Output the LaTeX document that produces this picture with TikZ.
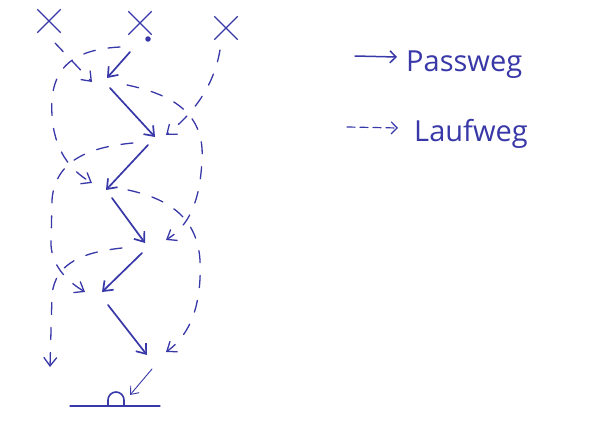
\documentclass[tikz,border=0pt]{standalone}
\usepackage{fontspec}
\setmainfont{Open Sans}
\usetikzlibrary{arrows.meta,shapes.misc}
\definecolor{ink}{RGB}{56,56,168}

\begin{document}
\begin{tikzpicture}[x=1pt,y=-1pt,
  pen/.style={draw=ink,line cap=round,line join=round},
  barb/.style={-{Straight Barb[length=8.5pt,width=13pt]}},
  pass/.style={pen,line width=1.7pt,barb},
  run/.style={pen,line width=1.3pt,dash pattern=on 12pt off 13pt,barb},
  player/.style={cross out,draw=ink,line width=1.4pt,minimum size=22pt,inner sep=0pt},
  legendtext/.style={text=ink,font=\fontsize{29}{32}\selectfont,anchor=base west,inner sep=0pt}]

% page
\useasboundingbox (0,0) rectangle (590,423);
\fill[white] (0,0) rectangle (590,423);

% players and ball
\node[player] (xl) at (49,21) {};
\node[player] (xm) at (140,23) {};
\node[player] (xr) at (226,28) {};
\node[circle,fill=ink,inner sep=0pt,minimum size=5.5pt] (ball) at (148,39) {};

% run starts / ends
\coordinate (l0) at (55,43);   \coordinate (l1) at (92,82);
\coordinate (m0) at (120,47);  \coordinate (m1) at (92,183);
\coordinate (r0) at (220,50);  \coordinate (r1) at (166,135);
\coordinate (l1s) at (127,85); \coordinate (l2) at (166,240);
\coordinate (r1s) at (133,143);\coordinate (r2) at (85,292);
\coordinate (m1s) at (128,190);\coordinate (m2) at (166,352);
\coordinate (l2s) at (122,248);\coordinate (l3) at (50,367);

% pass starts / ends
\coordinate (p1s) at (130,52);  \coordinate (p1e) at (107,78);
\coordinate (p2s) at (110,88);  \coordinate (p2e) at (155,137);
\coordinate (p3s) at (148,145); \coordinate (p3e) at (106,190);
\coordinate (p4s) at (112,198); \coordinate (p4e) at (145,243);
\coordinate (p5s) at (142,253); \coordinate (p5e) at (102,292);
\coordinate (p6s) at (108,305); \coordinate (p6e) at (147,355);

% shot and goal
\coordinate (s0) at (152,369); \coordinate (s1) at (130,395);
\coordinate (g0) at (70,406);  \coordinate (g1) at (160,406);

% passes
\draw[pass] (p1s) -- (p1e);
\draw[pass] (p2s) -- (p2e);
\draw[pass] (p3s) -- (p3e);
\draw[pass] (p4s) -- (p4e);
\draw[pass] (p5s) -- (p5e);
\draw[pass] (p6s) -- (p6e);

% runs
\draw[run] (l0) -- (l1);
\draw[run] (m0) .. controls (60,50) and (50,80) .. (52,115)
                .. controls (54,150) and (70,170) .. (m1);
\draw[run] (r0) .. controls (214,85) and (195,112) .. (r1);
\draw[run] (l1s) .. controls (175,95) and (205,115) .. (202,160)
                 .. controls (200,200) and (190,225) .. (l2);
\draw[run] (r1s) .. controls (90,147) and (55,160) .. (52,200) -- (51,245)
                 .. controls (52,262) and (62,278) .. (r2);
\draw[run] (m1s) .. controls (165,198) and (197,215) .. (200,260)
                 .. controls (202,305) and (190,335) .. (m2);
\draw[run] (l2s) .. controls (85,252) and (55,262) .. (52,295) -- (l3);

% shot on goal
\draw[pen,line width=0.9pt,-{Straight Barb[length=7pt,width=11pt]}] (s0) -- (s1);
\draw[pen,line width=1.3pt] (g0) -- (g1);
\draw[pen,line width=1.6pt] (108,406) -- (108,400)
  arc[start angle=180,end angle=360,radius=8] -- (124,406);

% legend
\coordinate (k1a) at (355,56); \coordinate (k1b) at (397,57);
\coordinate (k2a) at (347,127); \coordinate (k2b) at (398,128);
\draw[pen,line width=1.5pt,-{Straight Barb[length=6pt,width=12pt]}] (k1a) -- (k1b);
\draw[pen,line width=1.2pt,dash pattern=on 8pt off 5pt,-{Straight Barb[length=6pt,width=12pt]}] (k2a) -- (k2b);
\node[legendtext] (passweg) at (406,71) {Passweg};
\node[legendtext] (laufweg) at (414,141) {Laufweg};
\end{tikzpicture}
\end{document}
